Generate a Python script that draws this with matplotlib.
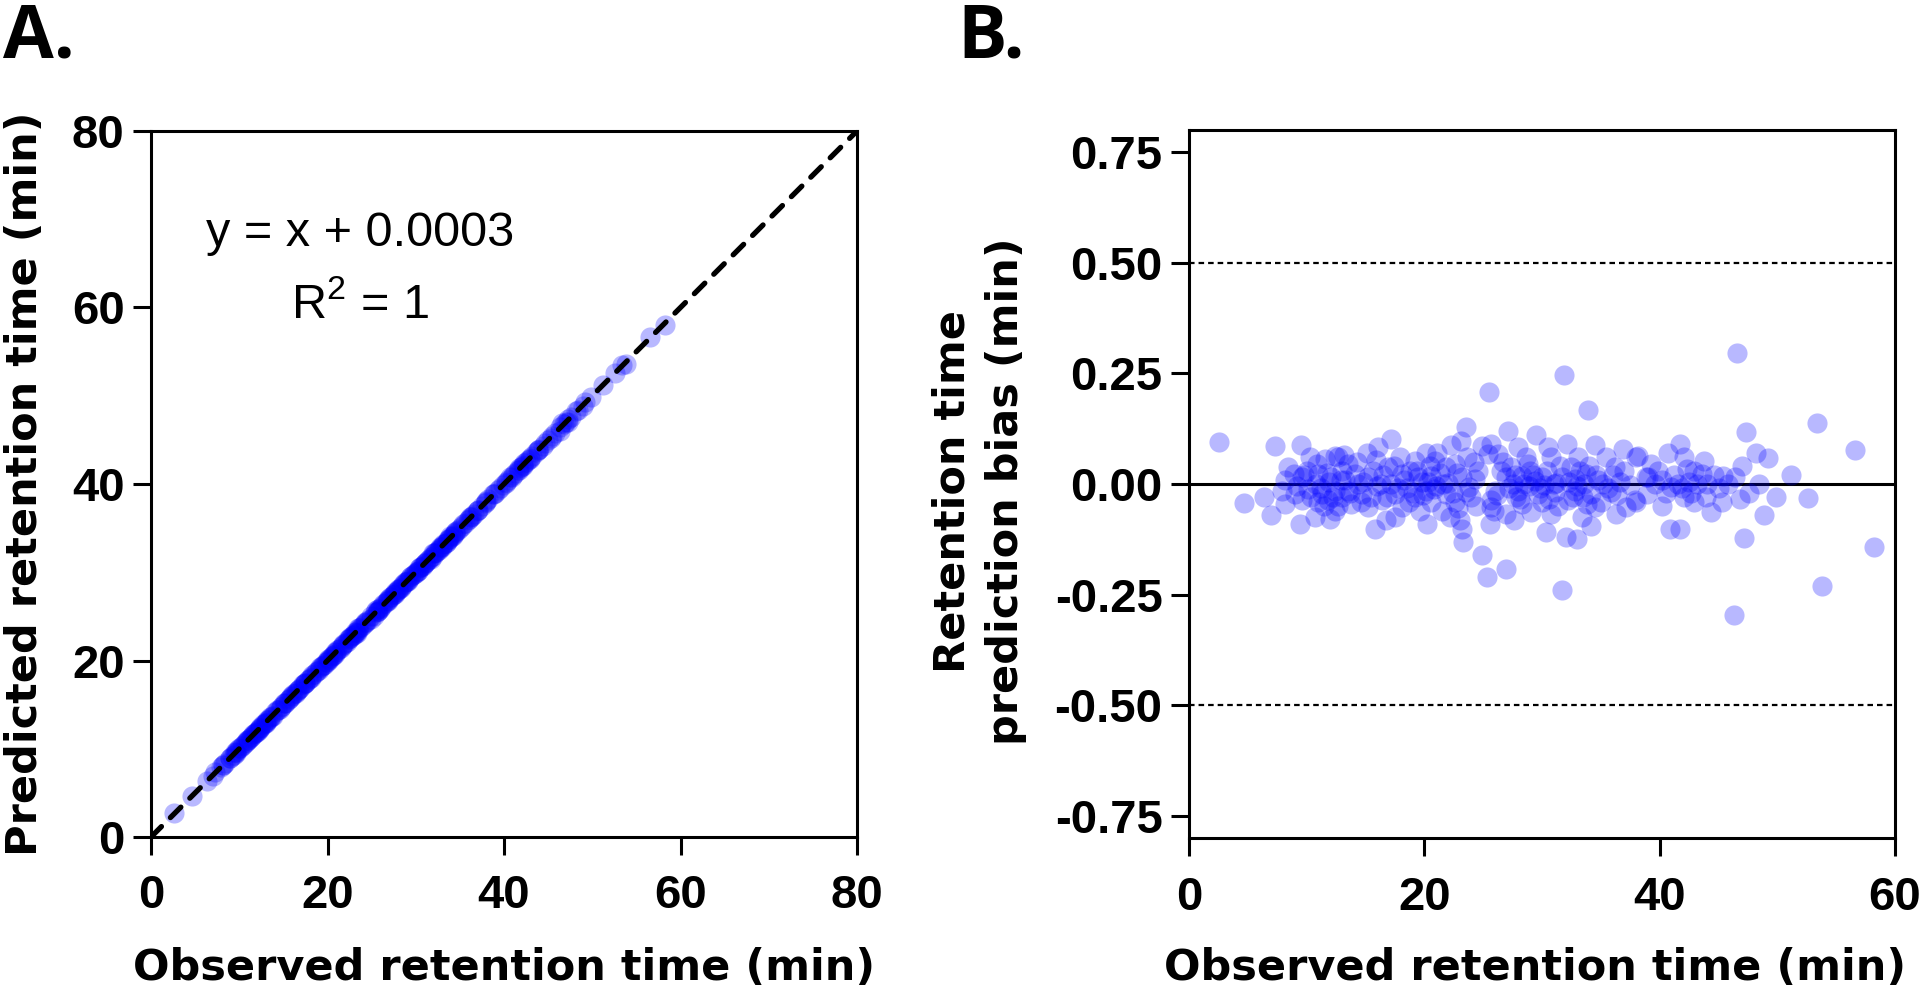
import numpy as np
import matplotlib.pyplot as plt

# observed retention time (min) and prediction bias (min)
observed = [2.58, 4.7, 6.35, 7.0, 7.3, 7.9, 8.2, 8.2, 8.4, 8.9, 9.0, 9.4, 9.5, 9.6, 9.6,
            10.1, 10.3, 10.7, 11.0, 11.0, 11.3, 11.6, 11.8, 12.1, 12.4, 12.4, 12.4, 12.7,
            12.7, 13.0, 13.0, 13.3, 13.5, 13.8, 14.1, 14.4, 14.7, 15.1, 15.2, 15.2, 15.8,
            16.1, 16.4, 16.7, 16.9, 17.2, 17.5, 17.5, 17.9, 18.1, 18.1, 19.2, 19.2, 19.5,
            20.1, 20.1, 20.2, 20.6, 20.6, 20.9, 21.8, 21.8, 22.2, 22.3, 22.6, 22.6, 23.0,
            23.1, 23.2, 23.2, 23.3, 23.5, 23.5, 24.2, 24.3, 24.9, 24.9, 25.3, 25.4, 25.5,
            25.6, 25.7, 25.9,
            25.7, 26.0, 25.7, 26.3, 26.9, 26.9, 26.9, 27.1, 27.4, 27.6, 28.0, 28.0, 28.3,
            28.3, 28.6, 28.8, 29.1, 29.5, 29.7, 30.0, 30.3, 30.5, 30.8, 30.8, 31.1, 31.7,
            31.7, 31.9, 32.0, 32.1, 32.2, 32.5, 32.8, 32.8, 33.0, 33.1, 33.4, 33.7, 33.9,
            34.2, 34.2, 34.5, 34.5, 34.8, 35.4, 35.9, 36.2, 36.3, 36.9, 37.1, 37.9, 38.0,
            38.8,
            38.0, 38.2, 38.9, 39.0, 39.3, 40.2, 40.2, 40.7, 40.9, 41.6, 41.7, 41.7, 42.1,
            42.1, 42.9, 42.9, 43.6, 43.8, 44.4, 45.3, 45.4, 46.3, 46.4, 46.6, 46.8, 47.0,
            47.2, 47.3, 48.2, 48.9, 49.2, 49.9, 51.2,
            52.6, 53.4, 53.8, 56.6, 58.2,
            10.8, 11.9, 9.2, 14.8, 16.0, 17.2, 18.5, 19.8, 21.0, 22.0, 23.8, 27.5, 28.9,
            29.4, 30.2, 31.2, 33.0, 35.2, 36.6, 37.5, 39.6, 41.0, 42.5, 44.0, 45.0,
            16.5, 18.8, 19.0, 20.5, 21.5, 24.0, 26.5, 27.8, 29.0, 30.0, 31.5, 33.5, 34.0,
            35.0, 36.0, 37.0, 10.0, 11.5, 13.5, 15.5,
            9.8, 10.4, 10.9, 11.2, 11.7, 12.2, 12.9, 13.7, 14.3, 14.6,
            15.6, 16.3, 16.8, 17.4, 17.8, 18.3, 18.7, 19.4, 19.9, 20.3, 20.8, 21.3, 21.6,
            22.4, 22.8,
            26.2, 26.7, 27.2, 27.7, 28.1, 28.5, 29.2, 29.8, 30.4, 30.6, 31.0, 31.4, 32.3,
            32.6, 33.2, 33.6, 33.8, 34.6, 35.6, 36.4,
            39.9, 40.5, 41.2, 41.9, 42.3, 42.7, 43.2, 43.9, 44.6, 45.8, 47.6, 48.4,
            24.6, 24.4, 23.6, 13.2, 12.0, 15.9, 19.6, 21.1, 22.9]
bias = [0.096, -0.043, -0.03, -0.071, 0.087, -0.015, 0.008, -0.045, 0.038, 0.023, -0.022,
        -0.091, 0.089, 0.015, -0.037, -0.011, 0.06, -0.075, 0.023, -0.041, -0.022, 0.056,
        -0.037, 0.015, 0.064, -0.015, -0.06, -0.049,
        0.06, 0.03, -0.03, 0.008, -0.015, -0.045, 0.023, 0.0, -0.022, 0.071, 0.015, -0.052,
        -0.101, 0.083, -0.037, -0.082, 0.038, 0.101, -0.022, -0.075, 0.06, 0.023, -0.052,
        0.053, -0.03, 0.015, 0.071, -0.015, -0.09, 0.019, -0.041, 0.053, 0.038, -0.022,
        -0.075, 0.089, 0.045, -0.041, -0.082, 0.098, 0.015, -0.101, -0.131, 0.129, -0.019,
        0.049, 0.011, 0.086, -0.161, -0.21, 0.068, 0.207, -0.09, -0.037, -0.06,
        0.09, -0.015, -0.052, 0.068, 0.015, -0.067, -0.191, 0.12, 0.038, -0.082, 0.083,
        -0.015, 0.019, -0.045, 0.06, 0.045, -0.064, 0.111, -0.022, 0.015, -0.109, 0.083,
        0.06, -0.067, -0.019, 0.015, -0.24, 0.246, -0.12, 0.09, -0.037, 0.038, 0.011,
        -0.015, -0.124, 0.06, -0.075, 0.023, 0.167, -0.022, -0.094, 0.089, -0.052, 0.008,
        0.06, -0.019, 0.038, -0.067, 0.079, -0.052, -0.037, 0.06, 0.015,
        -0.041, 0.064, -0.022, 0.015, 0.045, 0.008, -0.049, 0.069, -0.101, 0.0, 0.09,
        -0.101, 0.06, -0.03, 0.03, -0.041, 0.023, 0.053, -0.064, -0.041, 0.019, -0.296,
        0.015, 0.297, -0.034, 0.041, -0.121, 0.117, 0.071, -0.071, 0.059, -0.03, 0.021,
        -0.031, 0.138, -0.23, 0.077, -0.142,
        0.0, 0.004, -0.004, 0.005, -0.005, 0.0, -0.008, 0.004, -0.004, 0.002, -0.006, 0.0,
        -0.004, 0.006, -0.002, 0.003, -0.005, 0.0, 0.004, -0.003, 0.0, -0.006, 0.004, 0.0,
        -0.01,
        0.02, 0.03, -0.02, 0.04, -0.06, -0.03, 0.03, -0.03, 0.03, -0.04, 0.04, -0.03, 0.04,
        -0.04, 0.02, 0.03, 0.03, -0.05, 0.045, -0.03,
        0.02, -0.03, 0.045, -0.008, 0.025, -0.03, 0.01, -0.02, 0.05, -0.04,
        0.03, 0.0, -0.03, 0.04, -0.01, 0.01, -0.04, 0.03, -0.025, 0.005, -0.012, 0.025, 0.0,
        -0.02, 0.025,
        -0.025, 0.05, -0.01, 0.02, -0.035, 0.0, 0.02, -0.01, 0.03, -0.035, 0.0, -0.05,
        0.005, -0.03, 0.03, 0.0, -0.045, 0.02, -0.01, -0.025,
        0.03, -0.02, 0.02, -0.01, 0.035, -0.02, 0.0, -0.03, 0.02, 0.0, -0.02, 0.0,
        0.03, -0.05, 0.06, 0.065, -0.08, 0.055, -0.06, 0.07, -0.055]

fit_slope = 1.0
fit_intercept = 0.0003
fit_r2 = 1

ticks_a = [0, 20, 40, 60, 80]
ticks_bx = [0, 20, 40, 60]
ticks_by = [0.75, 0.50, 0.25, 0.00, -0.25, -0.50, -0.75]
limit_lines = [0.5, -0.5]

observed = np.array(observed)
bias = np.array(bias)
predicted = observed + bias

plt.rcParams['axes.linewidth'] = 2.2
plt.rcParams['mathtext.default'] = 'regular'

tick_font = dict(family='Liberation Sans', weight='bold', size=34)
label_font = dict(family='DejaVu Sans', weight='bold', size=31)
dot = dict(s=210, color=(0, 0, 1), alpha=0.28, linewidths=0)

fig = plt.figure(figsize=(19.2, 9.97), dpi=100)
W, H = 1920, 997
ax1 = fig.add_axes([151 / W, 1 - 837 / H, 706 / W, 706 / H])
ax2 = fig.add_axes([1189 / W, 1 - 838 / H, 706 / W, 708 / H])

for ax in (ax1, ax2):
    ax.tick_params(length=13, width=2.2, direction='out')
    ax.tick_params(axis='x', pad=14)
    ax.tick_params(axis='y', pad=6)

# Panel A
ax1.scatter(observed, predicted, zorder=2, **dot)
xs = np.array([0, 80])
ax1.plot(xs, fit_slope * xs + fit_intercept, color='black', lw=3.8,
         dashes=(2.8, 2.4), dash_capstyle='round', zorder=3)
ax1.set_xlim(0, 80)
ax1.set_ylim(0, 80)
ax1.set_xticks(ticks_a)
ax1.set_yticks(ticks_a)
ax1.set_xticklabels([str(t) for t in ticks_a], **tick_font)
ax1.set_yticklabels([str(t) for t in ticks_a], **tick_font)
ax1.text(23.7, 68.4, f'y = x + {fit_intercept:.4f}', ha='center', va='center',
         family='Liberation Sans', size=35)
ax1.text(23.7, 60.3, f'R$^{{2}}$ = {fit_r2}', ha='center', va='center',
         family='Liberation Sans', size=35)
ax1.set_xlabel('Observed retention time (min)', va='center', **label_font)
ax1.xaxis.set_label_coords(0.5, -0.186)
ax1.set_ylabel('Predicted retention time (min)', va='center', **label_font)
ax1.yaxis.set_label_coords(-0.178, 0.5)

# Panel B
ax2.axhline(0, color='black', lw=2.2, zorder=1)
for v in limit_lines:
    ax2.axhline(v, color='black', lw=1.6, dashes=(2.5, 1.8), zorder=1)
ax2.scatter(observed, bias, zorder=2, **dot)
ax2.set_xlim(0, 60)
ax2.set_ylim(-0.8, 0.8)
ax2.set_xticks(ticks_bx)
ax2.set_yticks(ticks_by)
ax2.set_xticklabels([str(t) for t in ticks_bx], **tick_font)
ax2.set_yticklabels([f'{t:.2f}' for t in ticks_by], **tick_font)
ax2.set_xlabel('Observed retention time (min)', va='center', **label_font)
ax2.xaxis.set_label_coords(0.49, -0.184)
ax2.set_ylabel('Retention time\nprediction bias (min)', va='center',
               linespacing=1.35, **label_font)
ax2.yaxis.set_label_coords(-0.297, 0.49)

fig.text(3 / W, 1 - 1 / H, 'A.', ha='left', va='top', family='Open Sans',
         weight='bold', size=53)
fig.text(957 / W, 1 - 1 / H, 'B.', ha='left', va='top', family='Open Sans',
         weight='bold', size=53)

plt.savefig('out.png', dpi=100)
plt.close()
